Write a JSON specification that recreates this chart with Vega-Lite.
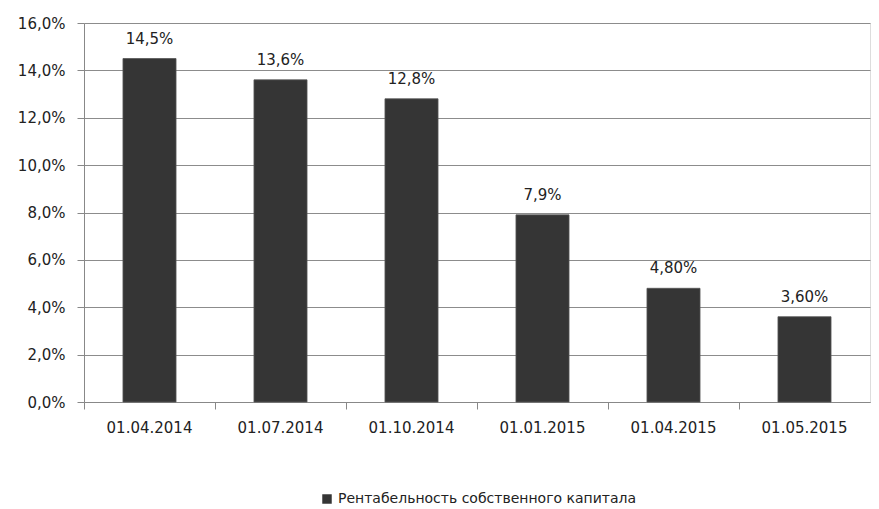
{
  "$schema": "https://vega.github.io/schema/vega-lite/v6.json",
  "autosize": {"type": "none"},
  "padding": {"left": 84, "top": 23, "right": 9, "bottom": 107},
  "width": 786,
  "height": 379,
  "background": "white",
  "data": {
    "values": [
      {"date": "01.04.2014", "value": 0.145, "label": "14,5%", "series": "Рентабельность собственного капитала"},
      {"date": "01.07.2014", "value": 0.136, "label": "13,6%", "series": "Рентабельность собственного капитала"},
      {"date": "01.10.2014", "value": 0.128, "label": "12,8%", "series": "Рентабельность собственного капитала"},
      {"date": "01.01.2015", "value": 0.079, "label": "7,9%", "series": "Рентабельность собственного капитала"},
      {"date": "01.04.2015", "value": 0.048, "label": "4,80%", "series": "Рентабельность собственного капитала"},
      {"date": "01.05.2015", "value": 0.036, "label": "3,60%", "series": "Рентабельность собственного капитала"}
    ]
  },
  "encoding": {
    "x": {
      "field": "date",
      "type": "nominal",
      "sort": null,
      "title": null,
      "scale": {"paddingInner": 0, "paddingOuter": 0},
      "axis": {
        "labelAngle": 0,
        "bandPosition": 0,
        "grid": false,
        "domainColor": "#888888",
        "tickColor": "#888888",
        "tickSize": 7,
        "labelPadding": 11,
        "labelFont": "DejaVu Sans",
        "labelFontSize": 15,
        "labelColor": "#222222"
      }
    },
    "y": {
      "field": "value",
      "type": "quantitative",
      "title": null,
      "scale": {"domain": [0, 0.16], "nice": false},
      "axis": {
        "values": [0, 0.02, 0.04, 0.06, 0.08, 0.1, 0.12, 0.14, 0.16],
        "labelExpr": "replace(format(datum.value, '.1%'), '.', ',')",
        "grid": true,
        "gridColor": "#8c8c8c",
        "domainColor": "#888888",
        "tickColor": "#888888",
        "tickSize": 7,
        "labelPadding": 12,
        "labelFont": "DejaVu Sans",
        "labelFontSize": 15,
        "labelColor": "#222222"
      }
    }
  },
  "layer": [
    {
      "mark": {"type": "bar", "width": {"band": 0.405}, "stroke": "#555555", "strokeWidth": 0.8},
      "encoding": {
        "color": {
          "field": "series",
          "type": "nominal",
          "scale": {"range": ["#353535"]},
          "legend": {
            "title": null,
            "orient": "none",
            "legendX": 236,
            "legendY": 469,
            "symbolType": "square",
            "symbolSize": 90,
            "symbolStrokeWidth": 0,
            "labelFont": "DejaVu Sans",
            "labelFontSize": 14,
            "labelColor": "#222222",
            "labelLimit": 500
          }
        }
      }
    },
    {
      "mark": {"type": "text", "baseline": "bottom", "dy": -12, "font": "DejaVu Sans", "fontSize": 15, "color": "#222222"},
      "encoding": {"text": {"field": "label"}}
    }
  ]
}
